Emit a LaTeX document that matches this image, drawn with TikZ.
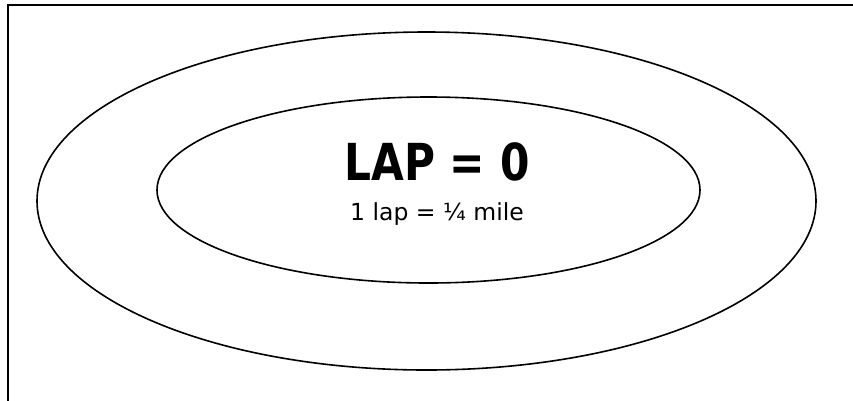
\documentclass[tikz,border=0pt]{standalone}
\usepackage{fontspec}
\setmainfont{DejaVu Sans}
\usepackage{tikz}

\begin{document}
\begin{tikzpicture}[x=1pt,y=-1pt,line width=1.6pt]
  \tikzstyle{track}=[draw=black]
  \tikzstyle{title}=[inner sep=0pt,anchor=base,font=\fontsize{51}{51}\selectfont\bfseries]
  \tikzstyle{note}=[inner sep=0pt,anchor=base,font=\fontsize{23.5}{23.5}\selectfont]
  \useasboundingbox (0,0) rectangle (853,400);
  \draw[line width=2pt] (8,401) -- (8,5) -- (854,5);
  \draw[track] (426.5,201) ellipse [x radius=389.5,y radius=169];
  \draw[track] (428.5,190) ellipse [x radius=271.5,y radius=93];
  \node[title] (lap) at (437,180) {\scalebox{0.83}[1]{LAP = 0}};
  \node[note] (mile) at (437,220) {1 lap = ¼ mile};
\end{tikzpicture}
\end{document}
